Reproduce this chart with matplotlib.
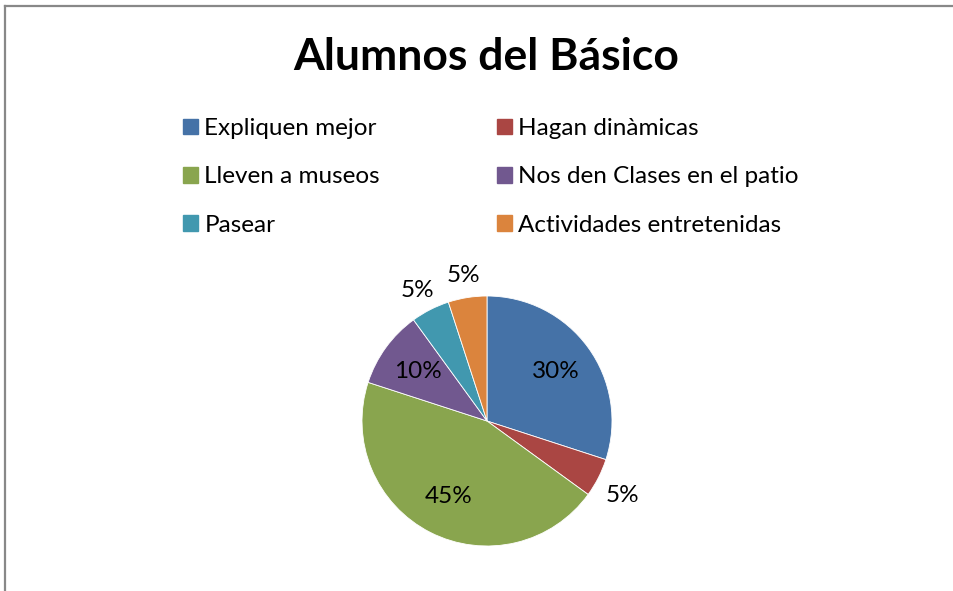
import matplotlib.pyplot as plt
import numpy as np
from matplotlib.patches import Rectangle
from matplotlib.lines import Line2D

categories = ["Expliquen mejor", "Hagan dinàmicas", "Lleven a museos",
              "Nos den Clases en el patio", "Pasear", "Actividades entretenidas"]
values = [30, 5, 45, 10, 5, 5]
labels = ["30%", "5%", "45%", "10%", "5%", "5%"]
colors = ["#4572A7", "#AA4643", "#89A54E", "#71588F", "#4198AF", "#DB843D"]

plt.rcParams['font.family'] = ['Lato', 'DejaVu Sans']

W, H = 954, 591
fig = plt.figure(figsize=(W / 100, H / 100), dpi=100)

# chart border: only top and left edges are inside the picture
fig.lines.append(Line2D([5.5 / W, 5.5 / W], [0, 1 - 5.5 / H], transform=fig.transFigure,
                        color="#888888", linewidth=1.6))
fig.lines.append(Line2D([5.5 / W, 1.01], [1 - 5.5 / H, 1 - 5.5 / H], transform=fig.transFigure,
                        color="#888888", linewidth=1.6))

cx, cy, r = 487, H - 421, 125
ax = fig.add_axes([(cx - r) / W, (cy - r) / H, 2 * r / W, 2 * r / H])
wedges, _ = ax.pie(values, colors=colors, startangle=90, counterclock=False,
                   radius=1, wedgeprops=dict(linewidth=0.6, edgecolor="white"))
ax.set_xlim(-1, 1)
ax.set_ylim(-1, 1)
ax.set_aspect("equal")
ax.axis("off")

for w, v, lab in zip(wedges, values, labels):
    mid = np.deg2rad((w.theta1 + w.theta2) / 2)
    d = 0.68 if v >= 10 else 1.22
    ax.text(d * np.cos(mid), d * np.sin(mid) - (0.04 if v < 10 else 0), lab,
            ha="center", va="center", fontsize=17.5, color="black", clip_on=False)

fig.text(486 / W, 1 - 57 / H, "Alumnos del Básico", ha="center", va="center",
         fontsize=32, fontweight="bold")

order = [0, 2, 4, 1, 3, 5]
handles = [Rectangle((0, 0), 1, 1, color=colors[i]) for i in order]
fig.legend(handles, [categories[i] for i in order], ncol=2,
           loc="upper left", bbox_to_anchor=(171 / W, 1 - 106 / H),
           frameon=False, fontsize=17.5, handlelength=0.62, handleheight=0.62,
           handletextpad=0.25, labelspacing=1.12, columnspacing=4.8, borderpad=0)

fig.savefig("out.png", dpi=100)
